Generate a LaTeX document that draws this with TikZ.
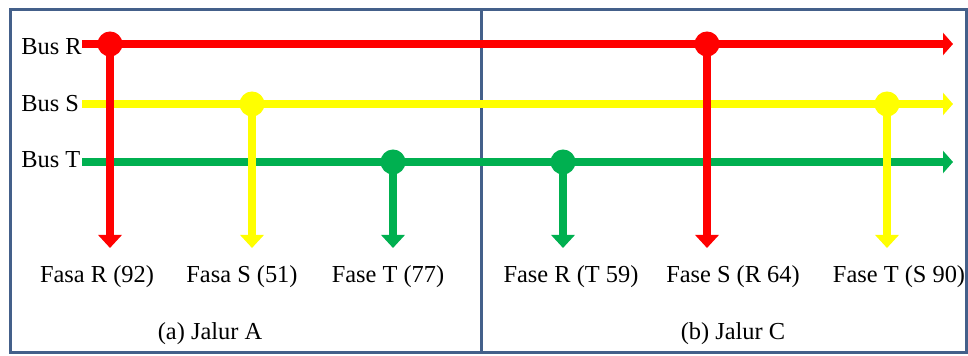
\documentclass[tikz,border=0pt]{standalone}
\usepackage{fontspec}
\setmainfont{Liberation Serif}
\usetikzlibrary{arrows.meta}
\definecolor{frameblue}{RGB}{68,96,138}
\definecolor{busred}{RGB}{255,0,0}
\definecolor{busyellow}{RGB}{255,255,0}
\definecolor{busgreen}{RGB}{0,176,80}
\begin{document}
\begin{tikzpicture}[x=0.5pt,y=-0.5pt,
  busline/.style={line width=4.3pt, -{Triangle[length=5pt,width=11pt]}},
  dropline/.style={line width=4.4pt, -{Triangle[length=6.5pt,width=11.5pt]}},
  joint/.style={circle, inner sep=0pt, minimum size=12.5pt},
  lbl/.style={font=\fontsize{12.2}{14}\selectfont, inner sep=0pt},
  frame/.style={draw=frameblue, line width=1.5pt}]
\useasboundingbox (0,0) rectangle (968,356);
% frame
\draw[frame] (10.5,10) rectangle (966,353);
\draw[frame] (481.5,10) -- (481.5,353);
% bus labels
\node[lbl, anchor=base west] (busR) at (21,55) {Bus R};
\node[lbl, anchor=base west] (busS) at (21,111.5) {Bus S};
\node[lbl, anchor=base west] (busT) at (21,168) {Bus T};
% bus coordinates
\coordinate (rS) at (82,44);  \coordinate (rE) at (953,44);
\coordinate (sS) at (82,104); \coordinate (sE) at (953,104);
\coordinate (tS) at (82,162); \coordinate (tE) at (953,162);
\draw[busline, busred] (rS) -- (rE);
\draw[busline, busyellow] (sS) -- (sE);
\draw[busline, busgreen] (tS) -- (tE);
% joints
\node[joint, fill=busred] (j1) at (110,44) {};
\node[joint, fill=busyellow] (j2) at (252,104) {};
\node[joint, fill=busgreen] (j3) at (393,162) {};
\node[joint, fill=busgreen] (j4) at (563,162) {};
\node[joint, fill=busred] (j5) at (707,44) {};
\node[joint, fill=busyellow] (j6) at (887,104) {};
% drop ends
\coordinate (d1) at (110,248);
\coordinate (d2) at (252,248);
\coordinate (d3) at (393,248);
\coordinate (d4) at (563,248);
\coordinate (d5) at (707,248);
\coordinate (d6) at (887,248);
\draw[dropline, busgreen] (j3.center) -- (d3);
\draw[dropline, busgreen] (j4.center) -- (d4);
\draw[dropline, busyellow] (j2.center) -- (d2);
\draw[dropline, busyellow] (j6.center) -- (d6);
\draw[dropline, busred] (j1.center) -- (d1);
\draw[dropline, busred] (j5.center) -- (d5);
% phase labels
\node[lbl, anchor=base] (l1) at (97,283) {Fasa R (92)};
\node[lbl, anchor=base] (l2) at (242,283) {Fasa S (51)};
\node[lbl, anchor=base] (l3) at (388,283) {Fase T (77)};
\node[lbl, anchor=base] (l4) at (571,283) {Fase R (T 59)};
\node[lbl, anchor=base] (l5) at (733,283) {Fase S (R 64)};
\node[lbl, anchor=base] (l6) at (899,283) {Fase T (S 90)};
% captions
\node[lbl, anchor=base] (capA) at (210,340) {(a) Jalur A};
\node[lbl, anchor=base] (capC) at (733,340) {(b) Jalur C};
\end{tikzpicture}
\end{document}
